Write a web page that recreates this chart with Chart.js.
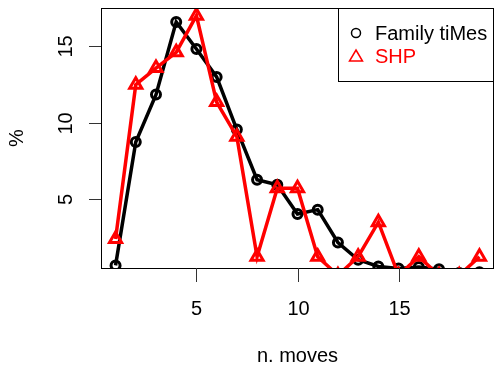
<!DOCTYPE html>
<html lang="en">
<head>
    <meta charset="utf-8" />
    <title>n. moves</title>
    <style>
        * {
            padding: 0;
            margin: 0;
        }
        body {
            background: #fff;
        }
        #plot {
            display: block;
        }
    </style>
</head>
<body>
    <canvas id="plot" width="497" height="374"></canvas>
    <script src="https://cdn.jsdelivr.net/npm/chart.js@4.4.1/dist/chart.umd.min.js"></script>
    <script>
        const moves = [1, 2, 3, 4, 5, 6, 7, 8, 9, 10, 11, 12, 13, 14, 15, 16, 17, 18, 19];
        const familyTimes = [0.65, 8.73, 11.83, 16.59, 14.82, 12.99, 9.54, 6.26, 5.93, 4.01, 4.3, 2.15, 1.02, 0.58, 0.45, 0.55, 0.4, 0.15, 0.2];
        const shp = [2.38, 12.48, 13.57, 14.6, 17.0, 11.34, 9.08, 1.22, 5.7, 5.7, 1.22, 0, 1.22, 3.48, 0, 1.22, 0, 0, 1.22];
        const xTicks = [5, 10, 15];
        const yTicks = [5, 10, 15];
        const seriesNames = ["Family tiMes", "SHP"];

        const font = '20px "Liberation Sans", Arial, sans-serif';

        const toPoints = (ys) => moves.map((m, i) => ({ x: m, y: ys[i] }));

        // R style frame, axes and legend drawn on top of the chart area
        const rFrame = {
            id: "rFrame",
            afterDraw(chart) {
                const ctx = chart.ctx;
                const area = chart.chartArea;
                const xs = chart.scales.x;
                const ys = chart.scales.y;
                ctx.save();
                ctx.strokeStyle = "#000";
                ctx.lineWidth = 1;
                ctx.strokeRect(area.left + 0.5, area.top + 0.5, area.right - area.left - 1, area.bottom - area.top);

                ctx.fillStyle = "#000";
                ctx.font = font;

                // x axis
                ctx.textAlign = "center";
                ctx.textBaseline = "alphabetic";
                ctx.strokeStyle = "#333";
                xTicks.forEach((t) => {
                    const px = Math.round(xs.getPixelForValue(t)) + 0.5;
                    ctx.beginPath();
                    ctx.moveTo(px, area.bottom);
                    ctx.lineTo(px, area.bottom + 14);
                    ctx.stroke();
                    ctx.fillText(String(t), px, 315);
                });
                ctx.fillText("n. moves", (area.left + area.right) / 2, 362);

                // y axis
                yTicks.forEach((t) => {
                    const py = Math.round(ys.getPixelForValue(t)) + 0.5;
                    ctx.beginPath();
                    ctx.moveTo(area.left, py);
                    ctx.lineTo(area.left - 12, py);
                    ctx.stroke();
                    ctx.save();
                    ctx.translate(72, py);
                    ctx.rotate(-Math.PI / 2);
                    ctx.fillText(String(t), 0, 0);
                    ctx.restore();
                });
                ctx.save();
                ctx.translate(23, (area.top + area.bottom) / 2);
                ctx.rotate(-Math.PI / 2);
                ctx.fillText("%", 0, 0);
                ctx.restore();

                // legend
                const lx = 338, ly = area.top;
                ctx.fillStyle = "#fff";
                ctx.fillRect(lx, ly, area.right - lx, 73);
                ctx.strokeStyle = "#000";
                ctx.strokeRect(lx + 0.5, ly + 0.5, area.right - lx - 1, 73);
                ctx.textAlign = "left";
                chart.data.datasets.forEach((ds, i) => {
                    const cy = 33 + i * 23;
                    ctx.strokeStyle = ds.borderColor;
                    ctx.fillStyle = ds.borderColor;
                    ctx.lineWidth = 1.5;
                    ctx.beginPath();
                    if (ds.pointStyle === "triangle") {
                        ctx.moveTo(356, cy - 6);
                        ctx.lineTo(362.5, cy + 5);
                        ctx.lineTo(349.5, cy + 5);
                        ctx.closePath();
                    } else {
                        ctx.arc(356, cy, 4.5, 0, Math.PI * 2);
                    }
                    ctx.stroke();
                    ctx.fillText(ds.label, 375, cy + 7);
                });
                ctx.restore();
            },
        };

        new Chart(document.getElementById("plot"), {
            type: "line",
            data: {
                datasets: [
                    {
                        label: seriesNames[0],
                        data: toPoints(familyTimes),
                        borderColor: "#000000",
                        backgroundColor: "transparent",
                        borderWidth: 3.5,
                        pointStyle: "circle",
                        pointRadius: 4.5,
                        pointBorderWidth: 3,
                        pointBackgroundColor: "transparent",
                        clip: 0,
                        order: 1,
                    },
                    {
                        label: seriesNames[1],
                        data: toPoints(shp),
                        borderColor: "#ff0000",
                        backgroundColor: "transparent",
                        borderWidth: 3.5,
                        pointStyle: "triangle",
                        pointRadius: 7,
                        pointBorderWidth: 3,
                        pointBackgroundColor: "transparent",
                        clip: 0,
                        order: 0,
                    },
                ],
            },
            options: {
                responsive: false,
                animation: false,
                layout: { autoPadding: false, padding: { left: 101, right: 3, top: 8, bottom: 106 } },
                scales: {
                    x: { type: "linear", min: 0.28, max: 19.72, display: false },
                    y: { type: "linear", min: 0.48, max: 17.5, display: false },
                },
                plugins: {
                    legend: { display: false },
                    tooltip: { enabled: false },
                },
            },
            plugins: [rFrame],
        });
    </script>
</body>
</html>
